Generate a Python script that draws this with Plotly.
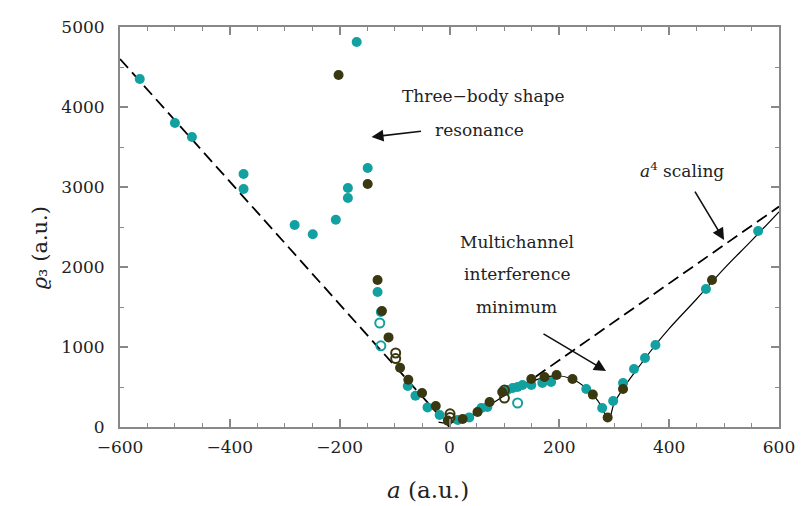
import plotly.graph_objects as go

# --- data ---
cyan_x = [-564, -500, -469, -375, -375, -282, -249, -207, -185, -185, -149, -169, -131, -125,
          -76, -62, -40, -18, 15, 36, 58, 69, 105, 115, 124, 133, 149, 169, 185, 249, 278, 298,
          316, 336, 356, 375, 467, 562]
cyan_y = [4350, 3800, 3625, 3162, 2975, 2525, 2410, 2590, 2987, 2862, 3237, 4812, 1687, 1437,
          512, 390, 245, 150, 87, 120, 237, 250, 462, 487, 500, 525, 525, 550, 562, 475, 237, 325,
          550, 725, 862, 1025, 1725, 2450]

dark_x = [-202, -149, -131, -123, -111, -90, -75, -50, -25, -3, 24, 51, 73, 96, 149, 173, 195,
          224, 261, 288, 316, 478]
dark_y = [4400, 3037, 1837, 1450, 1120, 740, 590, 425, 262, 80, 100, 187, 312, 437, 600, 625, 650,
          600, 405, 118, 475, 1837]

cyan_open_x = [-127, -125, 124]
cyan_open_y = [1300, 1015, 300]

dark_open_x = [-98, -98, 1, 1, 100, 100]
dark_open_y = [925, 855, 165, 120, 462, 362]

dash_left_x = [-600, 0]
dash_left_y = [4600, 0]
dash_right_x = [130, 600]
dash_right_y = [500, 2755]

curve_x = [-20, 0, 50, 100, 150, 190, 220, 250, 270, 290, 300, 320, 350, 375, 400, 450, 500, 550, 600]
curve_y = [60, 50, 180, 390, 570, 640, 610, 480, 330, 105, 300, 520, 800, 1025, 1230, 1600, 1980, 2330, 2690]

x_ticks = [-600, -400, -200, 0, 200, 400, 600]
y_ticks = [0, 1000, 2000, 3000, 4000, 5000]

CYAN = "#13a0a0"
DARK = "#3a3810"
FONT = "DejaVu Serif"
TXT = "#222222"

fig = go.Figure()
fig.add_trace(go.Scatter(x=dash_left_x, y=dash_left_y, mode="lines",
                         line=dict(color="black", width=1.8, dash="12px,6px"), showlegend=False))
fig.add_trace(go.Scatter(x=dash_right_x, y=dash_right_y, mode="lines",
                         line=dict(color="black", width=1.8, dash="12px,6px"), showlegend=False))
fig.add_trace(go.Scatter(x=curve_x, y=curve_y, mode="lines", line_shape="spline",
                         line=dict(color="black", width=1.2), showlegend=False))
fig.add_trace(go.Scatter(x=cyan_x, y=cyan_y, mode="markers",
                         marker=dict(color=CYAN, size=10), showlegend=False))
fig.add_trace(go.Scatter(x=dark_x, y=dark_y, mode="markers",
                         marker=dict(color=DARK, size=10), showlegend=False))
fig.add_trace(go.Scatter(x=cyan_open_x, y=cyan_open_y, mode="markers",
                         marker=dict(symbol="circle-open", color=CYAN, size=9, line=dict(width=2)),
                         showlegend=False))
fig.add_trace(go.Scatter(x=dark_open_x, y=dark_open_y, mode="markers",
                         marker=dict(symbol="circle-open", color=DARK, size=9, line=dict(width=2)),
                         showlegend=False))

axis_common = dict(showline=True, linecolor="#888888", linewidth=2, mirror="ticks",
                   ticks="inside", tickcolor="#888888", tickwidth=1.5, ticklen=8,
                   showgrid=False, zeroline=False,
                   tickfont=dict(family=FONT, size=17, color=TXT))

fig.update_xaxes(range=[-600, 600], tickvals=x_ticks, ticklabelstandoff=4,
                 minor=dict(dtick=50, ticks="inside", ticklen=4, tickcolor="#888888", tickwidth=1.2),
                 **axis_common)
fig.update_yaxes(range=[0, 5000], tickvals=y_ticks, ticklabelstandoff=10,
                 minor=dict(dtick=500, ticks="inside", ticklen=4, tickcolor="#888888", tickwidth=1.2),
                 **axis_common)

ann_font = dict(family=FONT, size=17, color=TXT)
annotations = [
    # axis titles
    dict(xref="paper", yref="paper", x=0.467, y=-0.1575, xanchor="center", yanchor="middle",
         text="<i>a</i> (a.u.)", showarrow=False, font=dict(family=FONT, size=23, color=TXT)),
    dict(xref="paper", yref="paper", x=-0.121, y=0.4475, xanchor="center", yanchor="middle",
         text="<i>ϱ</i>₃ (a.u.)", textangle=-90, showarrow=False,
         font=dict(family=FONT, size=21, color=TXT)),
    # labels
    dict(x=62, y=4137, text="Three−body shape", showarrow=False, font=ann_font),
    dict(x=55, y=3712, text="resonance", showarrow=False, font=ann_font),
    dict(x=424, y=3212, text="<i>a</i><sup>4</sup> scaling", showarrow=False, font=ann_font),
    dict(x=122, y=2312, text="Multichannel", showarrow=False, font=ann_font),
    dict(x=122, y=1912, text="interference", showarrow=False, font=ann_font),
    dict(x=122, y=1500, text="minimum", showarrow=False, font=ann_font),
    # arrows
    dict(x=-142, y=3625, ax=51, ay=-6, text="", showarrow=True, arrowhead=2, arrowsize=1.5,
         arrowwidth=1.6, arrowcolor="#111111"),
    dict(x=500, y=2337, ax=-30, ay=-50, text="", showarrow=True, arrowhead=2, arrowsize=1.5,
         arrowwidth=1.6, arrowcolor="#111111"),
    dict(x=285, y=700, ax=-64, ay=-38, text="", showarrow=True, arrowhead=2, arrowsize=1.5,
         arrowwidth=1.6, arrowcolor="#111111"),
]

fig.update_layout(width=808, height=506, margin=dict(l=120, r=29, t=27, b=79),
                  paper_bgcolor="white", plot_bgcolor="white", annotations=annotations,
                  font=dict(family=FONT))

fig.write_html("out.html")
